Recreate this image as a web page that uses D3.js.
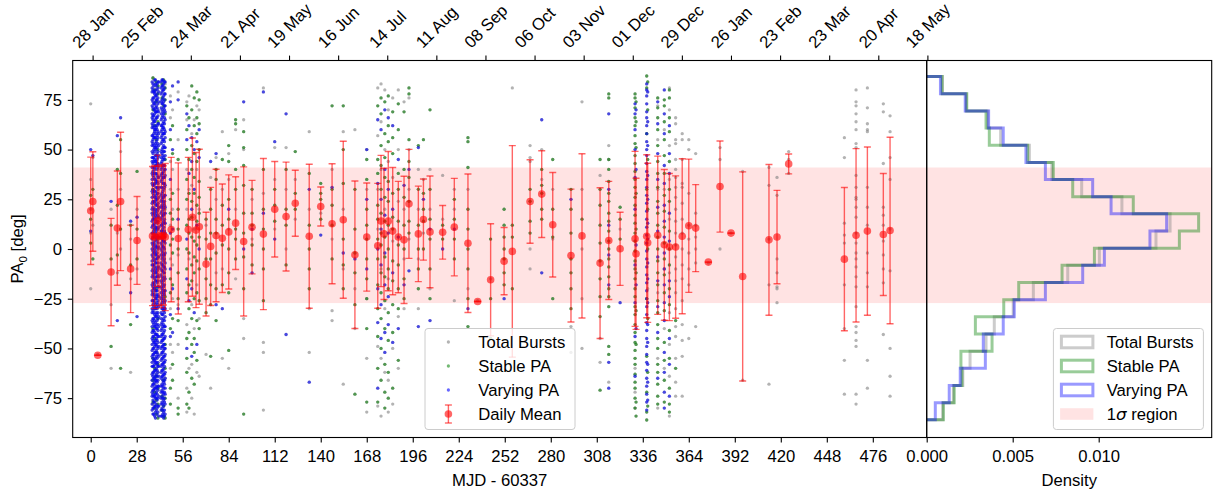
<!DOCTYPE html>
<html><head><meta charset="utf-8">
<script src="https://cdn.jsdelivr.net/npm/d3@7"></script>
<style>body{margin:0;background:#fff}svg{display:block}</style>
</head><body>
<svg id="chart" width="1219" height="490"></svg>
<script>
// ================= DATA =================
const bottomTicks = [0,28,56,84,112,140,168,196,224,252,280,308,336,364,392,420,448,476];
const topTickDays = [0,28,56,84,112,140,168,196,224,252,280,308,336,364,392,420,448,476];
const topTickLabels = ["28 Jan","25 Feb","24 Mar","21 Apr","19 May","16 Jun","14 Jul","11 Aug","08 Sep","06 Oct","03 Nov","01 Dec","29 Dec","26 Jan","23 Feb","23 Mar","20 Apr","18 May"];
const yTicks = [-75,-50,-25,0,25,50,75];
const densityTicks = [0,0.005,0.010];
const sigmaBand = [-27.2, 41.0];

// horizontal step histograms (bin edges in deg, densities bottom -> top)
const histEdges = [-85.9,-77.3,-68.6,-60.0,-51.4,-42.7,-34.1,-25.5,-16.9,-8.2,0.4,9.0,17.7,26.3,34.9,43.5,52.2,60.8,69.4,78.1,86.7];
const totalDensity   = [0.00093,0.00155,0.0021,0.00252,0.00345,0.00393,0.00503,0.0062,0.0082,0.01004,0.01333,0.01415,0.01135,0.00901,0.00728,0.00597,0.0043,0.00355,0.0023,0.00092];
const stableDensity  = [0.00097,0.0016,0.00205,0.00199,0.0038,0.00283,0.00448,0.00535,0.00787,0.00975,0.01469,0.01581,0.01201,0.00849,0.00736,0.00587,0.00364,0.00345,0.00233,0.00089];
const varyingDensity = [0.0005,0.00131,0.00195,0.00341,0.00329,0.00445,0.00509,0.0069,0.00907,0.01033,0.01298,0.01395,0.01072,0.00965,0.0069,0.00577,0.00445,0.0036,0.00224,0.0008];

// burst columns: day (MJD-60337) and PA values of each class
const colDays = [0.0,1.3,4.3,12.4,16.2,18.2,24.3,28.2,37.9,38.9,39.9,40.9,43.4,44.4,45.3,48.5,49.8,53.2,58.5,59.8,61.5,63.0,64.6,66.0,70.2,73.0,76.3,80.1,84.0,88.2,93.1,98.2,105.1,112.0,118.9,124.5,133.0,140.0,146.9,153.7,160.8,168.0,174.7,176.7,179.0,181.1,183.8,187.2,190.7,193.7,199.4,202.5,206.5,214.2,221.3,229.6,235.5,243.4,251.6,256.6,267.4,274.5,281.2,292.3,299.0,310.0,315.3,322.2,331.3,331.9,338.4,339.0,345.1,349.1,352.2,356.0,360.0,364.0,368.2,375.9,383.0,389.7,396.8,412.8,417.7,424.8,458.7,465.8,472.7,482.4,486.5];

const unclassifiedPA = [
[73,35,20,8,-20],[46,12],[-53],[20,-28,-60],[8,-12],[49,30,0],[-62,5,-15],[20,-10],
[86,-78],[-68],[],[82,-62],[-75],[],[83,20,-65],
[77,66,44,30,12,-5,-30,-48,-60],[70,40,20,-8,-25,-52],[79,55,30,-3,-28,-48,-75],
[74,65,40,20,-38,-70,-82],[77,30,-5,-60],[58,32,-28,-58,-75],[65,10,-40,-83],[72,40,-18,-62],[70,20,-35,-64],
[-53,12],[36,-70],[46,25,-12],[59,30,-10,-55],[48,35,-60,10],[60,20,-15],[65,50,-45,-35],[25,5],
[81,28,-47,-52,-81],[51,35,10],[51,30,0],[35,15],[59,20,-30,-52],[18],[40,5,-31,-36],[59,20,-10,-68],[60,-20,-40],[50,30,-25,-55,-82],
[81,57,30,10,-49,-79],[83,64,40,-10,-55,-84],[80,50,20,-30,-62],[70,44,-15,-66,-82],[76,36,4,-50,-78],[80,50,24,-34,-60],[74,20,-5,-30],[76,50,30,5],
[40,20,-5,-30],[35,8],[40,20,-20],[37,15],[-26,30,20],[30,-20],[-26],[-15],[],[81],[52,46,44,0,-10],[50,35],[30,5],[-39,-52],[74,30,0,-25,-50],
[37,-45,-57],[52,45,-67],[10],[-60,-72,-80],[],[],[-20],[72,55,30,-22,-55,-80],[60,30,-10,-40,-60],[81,70,52,35,15,-12,-32,-48,-64,-84],
[66,63,55,53,45,40,36,31,26,20,14,8,2,-4,-10,-16,-22,-30,-39,-44,-55,-67,-74],
[58,55,45,33,31,23,15,8,0,-8,-15,-26,-38,-46,-54,-74],
[55,50,28,12,5,-2,-10,-18,-45],[48,18,12,6,0,-7,-39],[-7],[51,45,0],[8],[39,-66],
[41,32,5,-18,-68],[36,27,-5,-12,-19,-20,-27],[49,45,38],
[56,46,13,7,3,-18,-40,-56,-73],
[80,74,72,68,64,60,53,51,37,31,26,25,21,16,8,3,-2,-5,-9,-14,-19,-29,-39,-42,-46,-49,-73,-78],
[81,71,63,60,59,31,21,12,-2,-12,-19,-56,-70],
[73,69,43,21,17,12,4,-3,-10,-17,-43],
[67,59,46,35,10,-11,-50,-64,-74]
];

const stablePA = [
[27,15,3],[30,-5],[],[-49,12,-5],[40,22,-3],[55,38,10,-60],[-38,12,-8],[39,10,-5],
[86,70,30,-40,-55,-66,-77],[80,62,10,-45,-60,-72,-80],[84,74,55,-20,-52,-64,-76,-83],[82,78,64,50,5,-35,-58,-70,-78,-85],[83,76,-74,-81],[85,72,-66,-79,-84],[81,75,68,45,-24,-48,-60,-75,-85],
[55,25,18,2,-15,-22,-40,-70,-78],[62,48,28,15,5,-2,-18,-35,-58,-66],[45,20,10,0,-12,-25,-36,-80,-83],
[72,60,50,35,25,12,0,-10,-22,-45,-55,-62,-78],[66,45,28,15,8,-2,-18,-30,-42,-72,-80],[82,70,52,40,24,16,6,-8,-16,-35,-48,-65],[76,62,48,36,28,4,-4,-12,-25,-45,-52,-68],[79,66,58,44,22,14,2,-6,-22,-36,-56],[75,63,50,34,26,18,6,-10,-26,-40],
[15,5,-5,-15,-25,-32],[30,20,8,-5,-18,-28,-54],[40,35,15,8,-2,-20,-36],[45,22,12,2,-18],[52,44,25,15,0,-12,-22,-51],[65,63,40,30,10,5,-5],[59,51,42,32,18,8,-4,-20,-83],[30,18,12,2,-8],
[40,20,10,0,-10,-26],[30,22,14],[40,20,12,-8],[49,28,20],[38,12,0,-10,-20],[33,28,25,15],[72,30,22,12,-5],[72,50,33,5,-8,-20],[30,10,-2,-12,-28,-73],[45,35,20,12,5,-5,-15,-25,-40,-77],
[72,45,38,22,15,5,-5,-18,-30,-44,-60,-77],[76,68,52,42,30,18,8,2,-12,-22,-35,-50,-66],[74,58,46,36,26,14,6,-4,-14,-26,-40,-58,-72,-80],[77,62,54,34,24,12,0,-10,-20,-32,-46,-62,-75],[69,56,48,28,16,10,-6,-16,-28,-42,-70],[73,60,38,30,14,2,-8,-20,-30,-56],[69,40,26,12,0,-15,-25],[81,78,55,44,36,24,14,8],
[52,30,12,0,-10,-20],[55,28,20,14,0],[70,30,15,5,-10,-25],[12,5],[25,15,5,-5],[56,54,41,20,10,0,-10,-25,-39],[],[5,-25,-45],[20,12,6,0,-5,-12,-18],[12,6,-20],[30,24,14,8],[40,32,28,20,15],[45,20,6,-25],[30,20,8,-5,-12,-20,-30],[15],
[45,30,22,12,3,-6,-15,-24,-34,-71],
[78,76,45,40,34,28,24,18,14,9,4,0,-5,-9,-14,-20,-24,-29,-49,-53],
[21,15,5],
[78,76,71,66,62,57,53,47,43,39,35,31,26,22,17,13,8,4,-1,-6,-10,-15,-20,-24,-29,-33,-38,-42,-47,-51,-55,-58,-63,-67,-70,-75,-80],
[74,64,51,28,10,-12,-31,-48,-77,-84],
[87,81,58,30,-25,-54,-72,-82,-86],
[84,70,45,20,0,-35,-62,-79],
[76,71,66,60,52,44,38,31,24,18,12,6,0,-6,-12,-18,-26,-32,-38,-45,-50,-58,-62,-68,-74,-78],
[75,72,64,55,47,38,27,19,11,3,-5,-13,-22,-31,-47,-56,-66,-77],
[80,76,66,59,44,30,24,9,0,-8,-20,-28,-41,-55,-70,-78,-82],
[-36,-60],[],[],[],[],[],[],[],[],[],[],[],[],[],[],[]
];

const varyingPA = [
[50,9],[47],[],[24],[57,-36],[66],[14,-22],[16,-34],
[83,80,76,74,71,67,65,62,57,55,53,48,46,43,39,37,32,30,28,24,21,17,15,12,8,6,2,-1,-4,-8,-10,-13,-17,-19,-22,-26,-28,-31,-35,-37,-41,-44,-46,-50,-53,-55,-59,-62,-64,-68,-71,-73,-76,-80,-83],
[85,79,78,73,70,68,64,60,59,56,51,49,45,41,40,35,33,29,26,23,19,16,13,10,7,4,0,-2,-6,-9,-11,-15,-18,-20,-24,-27,-30,-33,-36,-39,-42,-47,-49,-52,-56,-58,-61,-65,-67,-70,-74,-77,-79,-84],
[82,77,75,72,69,66,61,58,54,52,50,47,44,42,38,34,31,27,25,22,18,14,11,9,5,1,-3,-5,-7,-12,-14,-16,-21,-23,-25,-29,-32,-34,-38,-40,-43,-45,-48,-51,-54,-57,-60,-63,-66,-69,-72,-75,-78,-81],
[84,81,76,73,70,67,63,59,56,53,49,46,43,41,36,33,30,28,23,20,17,14,10,6,3,0,-4,-7,-10,-13,-16,-19,-23,-26,-28,-32,-35,-38,-41,-44,-47,-50,-53,-57,-59,-62,-66,-69,-71,-75,-79,-82],
[85,82,79,75,73,70,66,62,60,57,54,50,48,44,41,38,35,31,28,25,22,19,16,12,9,5,2,-1,-5,-8,-11,-14,-17,-20,-24,-27,-30,-33,-37,-40,-43,-46,-49,-52,-55,-58,-61,-64,-68,-71,-74,-77,-80,-84],
[83,80,77,74,71,68,64,61,58,55,52,49,46,42,39,36,33,30,26,23,20,17,14,11,7,4,1,-3,-6,-9,-12,-16,-19,-22,-25,-29,-31,-35,-38,-42,-45,-48,-51,-54,-57,-60,-63,-67,-70,-73,-76,-79,-82,-85],
[84,78,72,69,65,59,56,51,47,40,37,32,27,21,18,13,8,3,-2,-7,-10,-15,-21,-26,-30,-34,-39,-44,-50,-53,-56,-62,-65,-70,-73,-78,-83],
[74,60,35,8,-10,-33,-44],[82,50,10,-20,-42],[84,75,15,-30],
[68,55,5,-15,-50],[62,38,-26],[56,44,20,-20,-54],[50,30,-32],[54,12,-48],[60,46,0],
[],[44],[48,-28],[-30],[20],[],[74,0],[10,-12],
[79,18],[54,5],[68,-43],[],[30,-67],[7],[31],[-2],[-5],[50,25,-10],
[65,33,0,-20,-37,-70],[60,25,10,-8,-28,-45],[70,40,17,-2,-18,-42,-52],[66,30,8,-24,-38],[62,20,-12,-47],[45,6,-40],[32,-18],[-11,40],
[51,-39],[25],[-36,10],[0],[10],[-30],[],[],[-25],[],[],[65,-12],[],[25],[],
[],
[68,30,12,-3,-18,-57,-70],
[-27],
[73,68,60,50,36,20,-8,-27,-44,-64],
[70,40,2,-18,-40],
[83,80,77,73,69,66,62,58,54,50,47,43,39,35,31,27,23,19,15,11,7,3,-1,-5,-9,-13,-17,-21,-25,-29,-33,-37,-41,-45,-49,-53,-57,-61,-65,-69,-73,-77,-81],
[79,64,52,37,25,13,5,-7,-15,-27,-38,-47,-58,-67,-76],
[74,63,48,35,21,9,-4,-16,-29,-42,-65],
[80,68,58,42,33,22,14,6,-2,-10,-18,-27,-36,-52,-62,-72,-80],
[62,48,38,18,4,-16,-24,-45,-58,-74],
[],[],[],[],[],[],[],[],[],[],[],[],[],[],[],[]
];

// extra varying-PA bursts of the dense February/March episode
const denseDays = [37.4,38.4,39.4,40.4,41.4,42.9,43.9,44.9];
const denseVaryingPA = [
[84,81,79,75,72,68,66,63,61,57,54,52,49,46,44,41,38,35,33,29,26,23,20,18,14,11,8,5,3,0,-3,-6,-8,-11,-14,-18,-21,-23,-26,-30,-32,-36,-39,-42,-45,-48,-51,-54,-57,-59,-63,-66,-69,-72,-74,-78,-81],
[82,79,76,73,70,67,64,61,58,56,52,50,46,44,41,38,36,32,29,27,24,20,18,15,12,9,6,3,1,-2,-5,-8,-12,-14,-17,-20,-23,-26,-29,-32,-35,-38,-41,-44,-47,-50,-53,-56,-59,-62,-65,-68,-71,-74,-77,-80,-83],
[85,83,80,77,74,71,69,65,62,60,56,53,51,47,44,42,38,35,33,29,26,24,20,17,15,11,8,6,2,-1,-3,-7,-10,-12,-16,-19,-21,-25,-28,-30,-34,-37,-39,-43,-46,-48,-52,-55,-57,-61,-64,-66,-70,-73,-75,-79,-82,-85],
[83,80,78,75,71,69,66,62,60,57,55,51,48,45,43,40,37,34,31,28,25,22,19,16,13,10,7,4,1,-2,-5,-9,-11,-14,-17,-21,-24,-27,-30,-33,-36,-40,-43,-46,-49,-52,-55,-58,-61,-64,-67,-70,-73,-76,-80,-83],
[84,79,74,69,63,58,52,47,42,36,31,26,21,16,11,6,1,-4,-9,-14,-19,-24,-29,-34,-39,-44,-49,-54,-59,-64,-69,-74,-79,-84],
[84,81,78,74,71,68,65,62,59,56,53,49,46,43,40,37,34,31,27,24,21,18,15,12,9,6,3,0,-3,-7,-10,-13,-16,-19,-22,-25,-28,-32,-35,-38,-41,-44,-47,-50,-53,-56,-59,-62,-65,-69,-72,-75,-78,-81,-84],
[85,82,80,76,73,69,67,63,61,58,55,51,47,45,42,38,36,33,29,26,24,21,17,13,10,8,4,1,-2,-4,-8,-11,-15,-18,-21,-23,-26,-30,-33,-36,-39,-43,-46,-49,-52,-55,-58,-61,-64,-66,-69,-72,-75,-78,-81,-83],
[84,81,78,75,72,70,66,63,60,58,54,51,49,45,42,40,36,33,31,27,24,22,18,15,13,9,6,4,0,-3,-5,-9,-12,-14,-18,-21,-23,-27,-30,-32,-36,-39,-41,-45,-48,-50,-54,-57,-59,-63,-66,-68,-72,-75,-77,-81,-84]
];

// daily means with 1-sigma error
const meanDays = [0,1.3,4.3,12.4,16.2,18.2,24.3,28.2,37.6,39.0,40.8,41.6,43.0,44.3,45.4,49.0,53.3,59.4,61.9,64.1,66.1,70.2,73.0,76.3,80.1,84.0,88.2,93.1,98.2,105.1,112.0,118.9,124.5,133.0,140.0,146.9,153.7,160.8,168.0,174.7,176.7,178.5,181.1,183.8,187.2,190.7,193.7,199.4,202.5,206.5,214.2,221.3,229.6,235.5,243.4,251.6,256.6,267.4,274.5,281.2,292.3,299.0,310.0,315.3,322.2,331.3,331.9,338.4,339.0,345.1,349.1,352.2,356.0,360.0,364.0,368.2,375.9,383.0,389.7,396.8,412.8,417.7,424.8,458.7,465.8,472.7,482.4,486.5];
const meanPA = [19.2,23.9,-53.4,-11.6,10.5,23.9,-10.0,4.3,6.5,6.0,14.2,6.6,6.4,6.8,6.0,9.8,5.3,9.8,16.0,9.5,11.2,-7.6,1.3,6.8,5.4,8.6,13.0,3.8,11.0,7.5,20.0,16.3,23.0,6.4,21.4,12.7,14.7,-2.9,6.0,1.6,14.1,7.6,14.0,9.0,6.0,4.6,22.7,7.6,14.8,8.6,8.4,11.0,2.9,-26.4,-15.5,-6.1,-1.2,23.9,27.6,12.2,-3.3,6.6,-7.1,4.3,0.1,5.1,-2.4,6.4,3.1,6.9,2.1,1.0,1.0,6.4,11.7,10.5,-6.6,31.4,8.0,-13.8,4.6,6.0,42.8,-5.1,6.9,9.0,7.3,9.3];
const meanErr = [27,25,0,27,28.7,34.8,22,22.1,35,36,33,35,36,35,37,36.3,38,36.3,39.8,39,39,26.1,29.7,33.3,27.3,28.7,23.3,37.5,23.5,38,24,27.4,16.6,36.2,9.8,30.2,39.5,37.1,27.2,31.4,33,33,35,32,28,32,27.4,24,20.4,28.1,13.5,24.5,34.8,0,28.2,16.9,53.2,21,21.8,26.3,33.4,41.3,37.9,29.7,18.4,44,38,41,40,39.8,37.9,37,35.8,39,33.5,21.9,0,22.9,0,52.6,37.9,23.5,5,36,43.6,42.3,30.7,46.9];

// ================= LAYOUT / STYLE =================
const FONT = '"Liberation Sans", Arial, Helvetica, sans-serif';
const FS = 16.67;
const L = 72.7, R = 926.7, T = 60.5, B = 437.5, HR = 1211.7;
const TICK = 4.9;

const x = d3.scaleLinear().domain([-10.96, 508.8]).range([L, R]);
const xTop = d3.scaleLinear().domain([-11.35, 475.6]).range([L, R]);
const y = d3.scaleLinear().domain([-94.8, 94.8]).range([B, T]);
const xh = d3.scaleLinear().domain([0, 0.01657]).range([R, HR]);

const svg = d3.select("#chart").style("font-family", FONT);
const defs = svg.append("defs");
defs.append("clipPath").attr("id","clipMain").append("rect").attr("x",L).attr("y",T).attr("width",R-L).attr("height",B-T);
defs.append("clipPath").attr("id","clipHist").append("rect").attr("x",R).attr("y",T).attr("width",HR-R).attr("height",B-T);

const bandFill = "rgba(255,0,0,0.11)";
// main panel
const gMain = svg.append("g").attr("clip-path","url(#clipMain)");
gMain.append("rect").attr("x",L).attr("width",R-L)
  .attr("y",y(sigmaBand[1])).attr("height",y(sigmaBand[0])-y(sigmaBand[1])).attr("fill",bandFill);

function pts(days, arrs){
  const out=[];
  days.forEach((d,i)=>{ arrs.forEach(a=>{ (a[i]||[]).forEach(v=>out.push([d,v])); }); });
  return out;
}
const bluePts = pts(colDays,[varyingPA]).concat(pts(denseDays,[denseVaryingPA]));
const greenPts = pts(colDays,[stablePA]);
const grayPts = pts(colDays,[unclassifiedPA, stablePA, varyingPA]).concat(pts(denseDays,[denseVaryingPA]));
const R_DOT = 1.65;
gMain.append("g").selectAll("circle").data(grayPts).join("circle")
  .attr("cx",d=>x(d[0])).attr("cy",d=>y(d[1])).attr("r",R_DOT).attr("fill","#808080").attr("fill-opacity",0.6);
gMain.append("g").selectAll("circle").data(greenPts).join("circle")
  .attr("cx",d=>x(d[0])).attr("cy",d=>y(d[1])).attr("r",R_DOT).attr("fill","#008000").attr("fill-opacity",0.55);
gMain.append("g").selectAll("circle").data(bluePts).join("circle")
  .attr("cx",d=>x(d[0])).attr("cy",d=>y(d[1])).attr("r",R_DOT).attr("fill","#0000ff").attr("fill-opacity",0.6);

// error bars
const means = meanDays.map((d,i)=>({d, m:meanPA[i], e:meanErr[i]}));
const gErr = gMain.append("g");
const CAP = 3.5;
means.forEach(p=>{
  const cx = x(p.d), y1 = y(p.m+p.e), y2 = y(p.m-p.e);
  gErr.append("line").attr("x1",cx).attr("x2",cx).attr("y1",y1).attr("y2",y2)
    .attr("stroke","red").attr("stroke-opacity",0.6).attr("stroke-width",1.4);
  [y1,y2].forEach(yy=>gErr.append("line").attr("x1",cx-CAP).attr("x2",cx+CAP).attr("y1",yy).attr("y2",yy)
    .attr("stroke","red").attr("stroke-opacity",0.6).attr("stroke-width",1.4));
});
gErr.append("g").selectAll("circle").data(means).join("circle")
  .attr("cx",p=>x(p.d)).attr("cy",p=>y(p.m)).attr("r",3.8)
  .attr("fill","red").attr("fill-opacity",0.6);

// histogram panel
const gHist = svg.append("g").attr("clip-path","url(#clipHist)");
gHist.append("rect").attr("x",R).attr("width",HR-R)
  .attr("y",y(sigmaBand[1])).attr("height",y(sigmaBand[0])-y(sigmaBand[1])).attr("fill",bandFill);
function stepPath(dens){
  const p = d3.path();
  p.moveTo(xh(0), y(histEdges[0]));
  dens.forEach((v,i)=>{ p.lineTo(xh(v), y(histEdges[i])); p.lineTo(xh(v), y(histEdges[i+1])); });
  p.lineTo(xh(0), y(histEdges[histEdges.length-1]));
  return p.toString();
}
const histSeries = [[totalDensity,"#808080"],[stableDensity,"#008000"],[varyingDensity,"#0000ff"]];
histSeries.forEach(([dens,col])=>{
  gHist.append("path").attr("d",stepPath(dens)).attr("fill","none")
    .attr("stroke",col).attr("stroke-opacity",0.4).attr("stroke-width",3).attr("stroke-linejoin","miter");
});

// ================= AXES =================
function styleAxis(g){
  g.select(".domain").remove();
  g.attr("font-family",null).attr("font-size",null);
  g.selectAll(".tick line").attr("stroke","#000").attr("stroke-width",1.1);
  g.selectAll(".tick text").attr("fill","#000").style("font-family",FONT).style("font-size",FS+"px");
}
const fmtMinus = d => d<0 ? "\u2212"+Math.abs(d) : String(d);
svg.append("g").attr("transform",`translate(0,${B})`)
  .call(d3.axisBottom(x).tickValues(bottomTicks).tickSize(TICK).tickPadding(7.5).tickFormat(d=>String(d)))
  .call(styleAxis);
svg.append("g").attr("transform",`translate(${L},0)`)
  .call(d3.axisLeft(y).tickValues(yTicks).tickSize(TICK).tickPadding(5.8).tickFormat(fmtMinus))
  .call(styleAxis);
const gTop = svg.append("g").attr("transform",`translate(0,${T})`)
  .call(d3.axisTop(xTop).tickValues(topTickDays).tickSize(TICK).tickFormat((d,i)=>topTickLabels[i]))
  .call(styleAxis);
gTop.selectAll(".tick text").each(function(){
  const t = d3.select(this);
  t.attr("y",0).attr("dy",null).attr("text-anchor","middle").attr("dominant-baseline","central");
  const w = this.getComputedTextLength();
  const hh = (w + FS*0.95)/Math.SQRT2;
  t.attr("transform",`translate(0,${-(TICK+4.9) - hh/2}) rotate(-45)`);
});
svg.append("g").attr("transform",`translate(0,${B})`)
  .call(d3.axisBottom(xh).tickValues(densityTicks).tickSize(TICK).tickPadding(7.5).tickFormat(d3.format(".3f")))
  .call(styleAxis);

// frames
svg.append("rect").attr("x",L).attr("y",T).attr("width",R-L).attr("height",B-T)
  .attr("fill","none").attr("stroke","#000").attr("stroke-width",1.1);
svg.append("rect").attr("x",R).attr("y",T).attr("width",HR-R).attr("height",B-T)
  .attr("fill","none").attr("stroke","#000").attr("stroke-width",1.1);

// axis labels
svg.append("text").attr("x",(L+R)/2).attr("y",486).attr("text-anchor","middle")
  .style("font-size",FS+"px").text("MJD - 60337");
svg.append("text").attr("x",(R+HR)/2).attr("y",486).attr("text-anchor","middle")
  .style("font-size",FS+"px").text("Density");
const yl = svg.append("text").attr("transform",`translate(23,${(T+B)/2}) rotate(-90)`)
  .attr("text-anchor","middle").style("font-size",FS+"px");
yl.append("tspan").text("PA");
yl.append("tspan").attr("dy",4).style("font-size",(FS*0.7)+"px").text("0");
yl.append("tspan").attr("dy",-4).text(" [deg]");

// ================= LEGENDS =================
function legendBox(x0,y0,w,h){
  svg.append("rect").attr("x",x0).attr("y",y0).attr("width",w).attr("height",h).attr("rx",3)
    .attr("fill","#fff").attr("fill-opacity",0.8).attr("stroke","#cccccc").attr("stroke-width",1);
}
// main legend
const mlx = 425, mly = 328.5;
legendBox(mlx, mly, 150, 101);
const mainItems = [["Total Bursts","#808080",0.6],["Stable PA","#008000",0.55],["Varying PA","#0000ff",0.6],["Daily Mean","red",0.6]];
mainItems.forEach((it,i)=>{
  const cy = mly + 13.5 + i*24, hx = mlx + 23.4;
  if(i<3){
    svg.append("circle").attr("cx",hx).attr("cy",cy).attr("r",R_DOT).attr("fill",it[1]).attr("fill-opacity",it[2]);
  } else {
    svg.append("line").attr("x1",hx).attr("x2",hx).attr("y1",cy-9).attr("y2",cy+9).attr("stroke","red").attr("stroke-opacity",0.6).attr("stroke-width",1.4);
    [cy-9,cy+9].forEach(yy=>svg.append("line").attr("x1",hx-CAP).attr("x2",hx+CAP).attr("y1",yy).attr("y2",yy).attr("stroke","red").attr("stroke-opacity",0.6).attr("stroke-width",1.4));
    svg.append("circle").attr("cx",hx).attr("cy",cy).attr("r",3.8).attr("fill","red").attr("fill-opacity",0.6);
  }
  svg.append("text").attr("x",mlx+53.3).attr("y",cy).attr("dy","0.36em").style("font-size",FS+"px").text(it[0]);
});
// histogram legend
const hlx = 1053.4, hly = 328.5;
legendBox(hlx, hly, 150, 101);
const histItems = [["Total Bursts","#808080"],["Stable PA","#008000"],["Varying PA","#0000ff"],["region","red"]];
histItems.forEach((it,i)=>{
  const cy = hly + 13.5 + i*24;
  const r = svg.append("rect").attr("x",hlx+8).attr("y",cy-5.8).attr("width",31.5).attr("height",11.6);
  if(i<3) r.attr("fill","none").attr("stroke",it[1]).attr("stroke-opacity",0.4).attr("stroke-width",3);
  else r.attr("x",hlx+6.7).attr("y",cy-5.8).attr("width",33.3).attr("fill",bandFill);
  const t = svg.append("text").attr("x",hlx+53.3).attr("y",cy).attr("dy","0.36em").style("font-size",FS+"px");
  if(i<3) t.text(it[0]);
  else { t.append("tspan").text("1"); t.append("tspan").style("font-style","italic").style("font-family","'DejaVu Sans', sans-serif").text("\u03C3"); t.append("tspan").text(" region"); }
});
</script>
</body></html>
